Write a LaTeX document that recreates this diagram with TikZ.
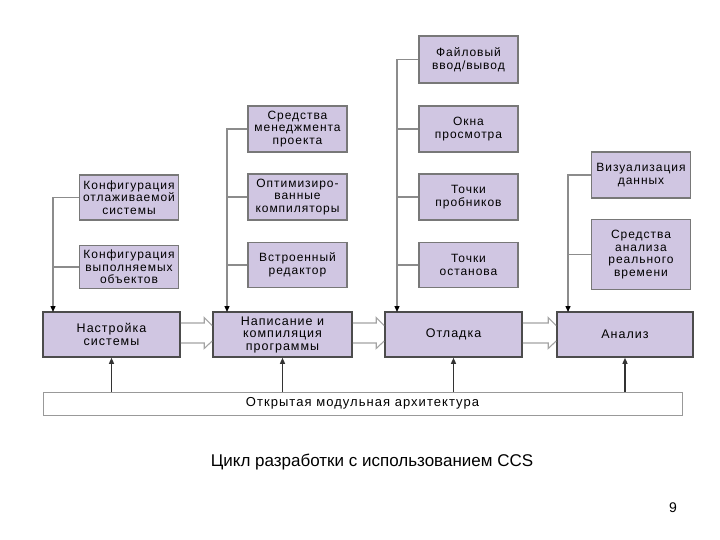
\documentclass[tikz,border=0pt]{standalone}
\usepackage{fontspec}
\setmainfont{Liberation Sans}
\newfontfamily\boxfont[LetterSpace=8]{Liberation Sans}
\usetikzlibrary{arrows.meta,calc}
\definecolor{lav}{RGB}{208,198,226}
\definecolor{subedge}{RGB}{120,120,120}
\definecolor{conncol}{RGB}{140,140,140}
\tikzset{
  sub/.style={draw=subedge, line width=1.6pt, fill=lav, align=center, inner sep=1pt,
    font=\boxfont\fontsize{12}{12.5}\selectfont, minimum width=97pt, text width=97pt},
  mainbox/.style={draw=black!70, line width=1.6pt, fill=lav, align=center, inner sep=1pt,
    font=\boxfont\fontsize{12.5}{12.5}\selectfont, minimum height=45pt},
  conn/.style={draw=conncol, line width=1.3pt},
  downarr/.style={conn, -{Triangle[length=6pt,width=5pt,fill=black,color=black]}},
  uparr/.style={draw=black!80, line width=1.3pt, -{Triangle[length=6pt,width=5pt]}},
  blk/.style={draw=conncol!80, line width=1.1pt},
}
\begin{document}
\begin{tikzpicture}[x=1pt,y=-1pt]
\useasboundingbox (0,0) rectangle (720,540);
% main boxes
\node[mainbox, minimum width=137pt] (b1) at (111.5,334.5) {Настройка\\системы};
\node[mainbox, minimum width=139pt] (b2) at (282.5,334.5) {Написание и\\компиляция\\программы};
\node[mainbox, minimum width=137pt] (b3) at (453.5,334.5) {Отладка};
\node[mainbox, minimum width=136pt] (b4) at (625,334.5) {Анализ};
% bottom bar
\node[draw=black!40, line width=1pt, fill=white, minimum width=639pt, minimum height=23pt,
  font=\boxfont\fontsize{13}{14}\selectfont] (bar) at (362.5,403.5) {Открытая модульная архитектура};
% column 1
\node[sub, minimum height=45pt] (s11) at (129,197.5) {Конфигурация\\отлаживаемой\\системы};
\node[sub, minimum height=43pt] (s12) at (129,267) {Конфигурация\\выполняемых\\объектов};
% column 2
\node[sub, minimum height=46pt] (s21) at (297.5,129) {Средства\\менеджмента\\проекта};
\node[sub, minimum height=46pt] (s22) at (297.5,197) {Оптимизиро-\\ванные\\компиляторы};
\node[sub, minimum height=45pt] (s23) at (297.5,265) {Встроенный\\редактор};
% column 3
\node[sub, minimum height=47pt] (s31) at (468.5,59.5) {Файловый\\ввод/вывод};
\node[sub, minimum height=46pt] (s32) at (468.5,129) {Окна\\просмотра};
\node[sub, minimum height=46pt] (s33) at (468.5,197) {Точки\\пробников};
\node[sub, minimum height=45pt] (s34) at (468.5,265) {Точки\\останова};
% column 4
\node[sub, minimum height=46pt] (s41) at (641,175) {Визуализация\\данных};
\node[sub, minimum height=70pt] (s42) at (641,254.5) {Средства\\анализа\\реального\\времени};
% entry coordinates on box tops
\coordinate (t1) at (53,312);
\coordinate (t2) at (227,312);
\coordinate (t3) at (397,312);
\coordinate (t4) at (568,312);
% connectors
\draw[downarr] (s11.west) -| (t1);
\draw[conn] (s12.west) -- (s12.west -| t1);
\draw[downarr] (s21.west) -| (t2);
\draw[conn] (s22.west) -- (s22.west -| t2);
\draw[conn] (s23.west) -- (s23.west -| t2);
\draw[downarr] (s31.west) -| (t3);
\draw[conn] (s32.west) -- (s32.west -| t3);
\draw[conn] (s33.west) -- (s33.west -| t3);
\draw[conn] (s34.west) -- (s34.west -| t3);
\draw[downarr] (s41.west) -| (t4);
\draw[conn] (s42.west) -- (s42.west -| t4);
% up arrows from bar
\foreach \b in {b1,b2,b3,b4}{
  \draw[uparr] (bar.north -| \b.south) -- (\b.south);
}
% block arrows between main boxes
\foreach \a/\b in {b1/b2,b2/b3,b3/b4}{
  \draw[blk] ($(\a.east)+(0,-11.5)$) -- ($(\b.west)+(-8,-11.5)$) -- ($(\b.west)+(-8,-17)$) -- ($(\b.west)+(0,-9)$);
  \draw[blk] ($(\a.east)+(0,8.5)$) -- ($(\b.west)+(-8,8.5)$) -- ($(\b.west)+(-8,14)$) -- ($(\b.west)+(0,6.5)$);
}
% caption and page number
\node[font=\fontsize{17}{20}\selectfont] (cap) at (372,462) {Цикл разработки с использованием CCS};
\node[font=\fontsize{14}{16}\selectfont] (pg) at (673,508) {9};
\end{tikzpicture}
\end{document}
